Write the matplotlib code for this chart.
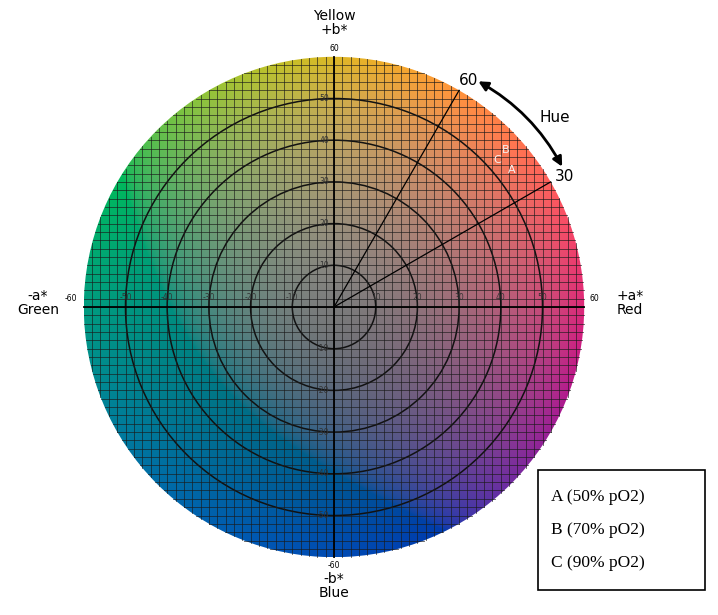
import matplotlib

matplotlib.use("Agg")
import matplotlib.pyplot as plt
import numpy as np
from matplotlib.patches import Circle, FancyArrowPatch, Rectangle

RINGS = [10, 20, 30, 40, 50]
HUE_ANGLES = [30, 60]
TICKS = [-50, -40, -30, -20, -10, 10, 20, 30, 40, 50]
POINT_NAMES = ["A", "B", "C"]
POINT_A = [42.7, 41.2, 39.1]
POINT_B = [32.9, 37.6, 35.3]
LEGEND_LINES = ["A (50% pO2)", "B (70% pO2)", "C (90% pO2)"]
R = 60


def lab_to_rgb(L, a, b):
    fy = (L + 16) / 116
    fx = fy + a / 500
    fz = fy - b / 200
    def finv(t):
        return np.where(t > 6 / 29, t ** 3, 3 * (6 / 29) ** 2 * (t - 4 / 29))
    X, Y, Z = 0.9505 * finv(fx), finv(fy), 1.089 * finv(fz)
    r = 3.2406 * X - 1.5372 * Y - 0.4986 * Z
    g = -0.9689 * X + 1.8758 * Y + 0.0415 * Z
    bb = 0.0557 * X - 0.2040 * Y + 1.0570 * Z
    rgb = np.stack([r, g, bb], axis=-1)
    rgb = np.clip(rgb, 0, 1)
    return np.where(rgb > 0.0031308, 1.055 * rgb ** (1 / 2.4) - 0.055, 12.92 * rgb)


px = 41.7 / 10  # pixels per unit
fig = plt.figure(figsize=(7.18, 6.15), dpi=100)
ax = fig.add_axes([0, 0, 1, 1])
ax.set_xlim(-334 / px, (718 - 334) / px)
ax.set_ylim(-(615 - 307) / px, 307 / px)
ax.set_aspect("equal")
ax.axis("off")

# colour disk: gray core, chroma grows towards the rim
g = np.linspace(-R, R, 500)
A, B = np.meshgrid(g, g)
hue = np.arctan2(B, A)
rho = np.clip(np.hypot(A, B) / R, 0, 1)
L = 52 + 24 * rho * np.cos(hue - np.radians(95))
scale = 1.2 * rho ** 0.6
rgb = lab_to_rgb(L, A * scale, B * scale)
img = ax.imshow(rgb, extent=(-R, R, -R, R), origin="lower", interpolation="bilinear")
disk = Circle((0, 0), R, transform=ax.transData, facecolor="none", edgecolor="none")
ax.add_patch(disk)
img.set_clip_path(disk)

# grid
for v in np.arange(-58, 60, 2):
    h = np.sqrt(R ** 2 - v ** 2)
    ax.plot([v, v], [-h, h], color="#1a1a1a", lw=0.6, alpha=0.75)
    ax.plot([-h, h], [v, v], color="#1a1a1a", lw=0.6, alpha=0.75)
ax.plot([-R, R], [0, 0], color="black", lw=1.3)
ax.plot([0, 0], [-R, R], color="black", lw=1.3)
for r in RINGS:
    ax.add_patch(Circle((0, 0), r, fill=False, edgecolor="#111111", lw=1.1))

# hue lines
for ang in HUE_ANGLES:
    t = np.radians(ang)
    ax.plot([0, R * np.cos(t)], [0, R * np.sin(t)], color="black", lw=0.9)
    ax.text(R * 1.045 * np.cos(t) + 1, R * 1.045 * np.sin(t), str(ang),
            fontsize=11, ha="center", va="center")
t1, t2 = np.radians(58), np.radians(31)
ax.add_patch(FancyArrowPatch((R * 1.07 * np.cos(t1), R * 1.07 * np.sin(t1)),
                             (R * 1.07 * np.cos(t2), R * 1.07 * np.sin(t2)),
                             connectionstyle="arc3,rad=-0.15", arrowstyle="<|-|>",
                             mutation_scale=14, lw=2, color="black"))
ax.text(53, 45.5, "Hue", fontsize=11, ha="center", va="center")

# tick labels
for v in TICKS:
    ax.text(v, 1.2, str(v), fontsize=5.5, ha="center", va="bottom", color="#333333")
    ax.text(-1.2, v, str(v), fontsize=5.5, ha="right", va="center", color="#333333")
ax.text(0, 62, "60", fontsize=5.5, ha="center", va="center")
ax.text(0, -62, "-60", fontsize=5.5, ha="center", va="center")
ax.text(62.5, 2, "60", fontsize=5.5, ha="center", va="center")
ax.text(-63, 2, "-60", fontsize=5.5, ha="center", va="center")

ax.text(0, 68, "Yellow\n+b*", fontsize=10, ha="center", va="center", linespacing=1.0)
ax.text(0, -67, "-b*\nBlue", fontsize=10, ha="center", va="center", linespacing=1.0)
ax.text(71, 1, "+a*\nRed", fontsize=10, ha="center", va="center", linespacing=1.0)
ax.text(-71, 1, "-a*\nGreen", fontsize=10, ha="center", va="center", linespacing=1.0)

for name, a, b in zip(POINT_NAMES, POINT_A, POINT_B):
    ax.text(a, b, name, fontsize=8, color="#f4f4f4", ha="center", va="center")

# legend box
x0, y0 = (538 - 334) / px, (307 - 590) / px
ax.add_patch(Rectangle((x0, y0), 167 / px, 120 / px, facecolor="white",
                       edgecolor="black", lw=1.2))
for i, line in enumerate(LEGEND_LINES):
    ax.text((551 - 334) / px, (307 - 497 - i * 33) / px, line, fontsize=12.5,
            family="Liberation Serif", ha="left", va="center")

fig.savefig("out.png", dpi=100)
